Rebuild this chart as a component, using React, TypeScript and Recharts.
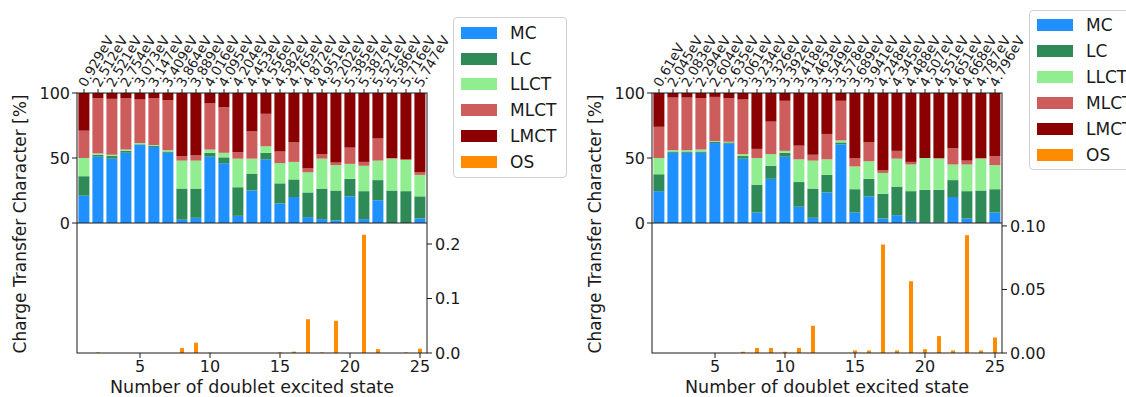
import React from 'react';
import { BarChart, Bar, XAxis, YAxis } from 'recharts';

// excited-state index, shared by both panels
const states = [1, 2, 3, 4, 5, 6, 7, 8, 9, 10, 11, 12, 13, 14, 15, 16, 17, 18, 19, 20, 21, 22, 23, 24, 25];

// left complex
const leftEnergies = [
  '0.929eV', '2.512eV', '2.521eV', '2.754eV', '3.073eV', '3.147eV', '3.409eV', '3.864eV', '3.889eV',
  '4.016eV', '4.095eV', '4.204eV', '4.453eV', '4.556eV', '4.582eV', '4.765eV', '4.872eV', '4.951eV',
  '5.202eV', '5.385eV', '5.387eV', '5.521eV', '5.586eV', '5.716eV', '5.747eV',
];
const leftMC = [21, 51, 49.5, 54, 60, 58.5, 54, 2.5, 4, 51, 46, 5.5, 25, 49, 15, 20, 4.5, 3, 2, 20.5, 3, 17.5, 0, 0, 3.5];
const leftLC = [15, 1.5, 2, 1.5, 0.5, 1, 1, 24, 22.5, 3, 4.5, 22, 13, 5, 15.5, 13.5, 19, 23.5, 23, 13.5, 21.5, 15.5, 25, 24.5, 17];
const leftLLCT = [14, 1, 1, 1, 1, 0.5, 1, 21.5, 21.5, 2.5, 3.5, 22, 11.5, 5, 15.5, 13.5, 15.5, 23, 19.5, 11.5, 19.5, 15, 24.5, 24, 16.5];
const leftMLCT = [21, 42.5, 43, 39.5, 33.5, 36, 38.5, 3.5, 4, 35.5, 35, 5, 21, 25, 9, 15, 3, 3.5, 2, 12.5, 3, 17, 0.5, 0.5, 2];
const leftLMCT = [29, 4, 4.5, 4, 5, 4, 5.5, 48.5, 48, 8, 11, 45.5, 29.5, 16, 45, 38, 58, 47, 53.5, 42, 53, 35, 50, 51, 61];
const leftOS = [0, 0.001, 0, 0, 0, 0, 0, 0.009, 0.019, 0.0005, 0, 0, 0, 0, 0.001, 0.0025, 0.062, 0.001, 0.059, 0, 0.217, 0.007, 0, 0.001, 0.008];

// right complex
const rightEnergies = [
  '0.61eV', '2.045eV', '2.083eV', '2.294eV', '2.604eV', '2.635eV', '3.061eV', '3.234eV', '3.326eV',
  '3.392eV', '3.418eV', '3.463eV', '3.549eV', '3.578eV', '3.689eV', '3.941eV', '4.248eV', '4.345eV',
  '4.488eV', '4.507eV', '4.551eV', '4.651eV', '4.668eV', '4.787eV', '4.796eV',
];
const rightMC = [24.5, 54, 54, 54, 61.5, 61, 49.5, 8, 34, 51, 12.5, 4, 23.5, 60.5, 8, 20.5, 3.5, 6, 1.5, 0.5, 0.5, 20, 3.5, 0, 8];
const rightLC = [13, 1, 1, 1, 1, 1, 2, 21.5, 10, 3, 19, 22.5, 13.5, 1.5, 18, 13.5, 19, 22, 23, 25, 25, 13, 21, 25, 18];
const rightLLCT = [12.5, 1, 1, 1.5, 0.5, 0.5, 1.5, 20.5, 9, 1.5, 17.5, 21.5, 12, 1.5, 17.5, 13.5, 16, 21.5, 20.5, 24.5, 24, 12, 20.5, 24.5, 18.5];
const rightMLCT = [24, 40.5, 40.5, 39.5, 34, 33.5, 42, 7, 25, 38.5, 10.5, 4.5, 19.5, 30.5, 6.5, 14.5, 2, 6, 2, 0, 0.5, 12.5, 3, 0.5, 7];
const rightLMCT = [26, 3.5, 3.5, 4, 3, 4, 5, 43, 22, 6, 40.5, 47.5, 31.5, 6, 50, 38, 59.5, 44.5, 53, 50, 50, 42.5, 52, 50, 48.5];
const rightOS = [0, 0, 0, 0, 0, 0, 0.001, 0.004, 0.004, 0.001, 0.004, 0.0214, 0, 0, 0.002, 0.002, 0.0854, 0.002, 0.0565, 0.003, 0.0133, 0.002, 0.0927, 0.002, 0.0122];

const ctKeys = ['MC', 'LC', 'LLCT', 'MLCT', 'LMCT'];
const colors: Record<string, string> = {
  MC: '#1e90ff',
  LC: '#2e8b57',
  LLCT: '#90ee90',
  MLCT: '#cd5c5c',
  LMCT: '#8b0000',
  OS: '#ff8c00',
};
const legendKeys = [...ctKeys, 'OS'];

const INK = '#1a1a1a';

// plot box of each panel (relative to the panel's left edge)
const PLOT_X = 77;
const PLOT_W = 350;
const TOP_Y = 93;
const MID_Y = 223;
const BOTTOM_Y = 353;

const EnergyTick = ({ x, y, payload, labels }: any) => {
  const tx = x + 2;
  const ty = y + 1;
  return (
    <text x={tx} y={ty} transform={`rotate(-60 ${tx} ${ty})`} fontSize={13.5} fill={INK} textAnchor="start">
      {labels[payload.value - 1]}
    </text>
  );
};

const LegendBox = ({ left, top, rowGap, firstRow }: any) => (
  <div
    style={{
      position: 'absolute',
      left,
      top,
      width: 112,
      height: firstRow * 2 + rowGap * 5,
      border: '1px solid #d0d0d0',
      borderRadius: 4,
      background: '#fff',
      fontSize: 17,
      color: INK,
    }}
  >
    {legendKeys.map((k, i) => (
      <div key={k} style={{ position: 'absolute', left: 0, top: firstRow + i * rowGap, height: 0 }}>
        <div style={{ position: 'absolute', left: 7, top: -6, width: 36, height: 12, background: colors[k] }} />
        <div style={{ position: 'absolute', left: 56, top: -11, lineHeight: '22px', whiteSpace: 'nowrap' }}>{k}</div>
      </div>
    ))}
  </div>
);

interface PanelProps {
  left: number;
  energies: string[];
  mc: number[];
  lc: number[];
  llct: number[];
  mlct: number[];
  lmct: number[];
  os: number[];
  osMax: number;
  osTicks: number[];
  osDigits: number;
}

const Panel = ({ left, energies, mc, lc, llct, mlct, lmct, os, osMax, osTicks, osDigits }: PanelProps) => {
  const ctRows = states.map((s, i) => ({ state: s, MC: mc[i], LC: lc[i], LLCT: llct[i], MLCT: mlct[i], LMCT: lmct[i] }));
  const osRows = states.map((s, i) => ({ state: s, OS: os[i] }));

  return (
    <>
      {/* stacked charge-transfer character */}
      <div style={{ position: 'absolute', left, top: 0 }}>
        <BarChart width={470} height={240} data={ctRows} margin={{ top: 0, right: 43, bottom: 17, left: 0 }} barCategoryGap="10%">
          <XAxis
            dataKey="state"
            orientation="top"
            height={TOP_Y}
            interval={0}
            tickSize={4}
            tickMargin={2}
            axisLine={false}
            stroke={INK}
            tick={(p: any) => <EnergyTick {...p} labels={energies} />}
          />
          <YAxis
            domain={[0, 100]}
            ticks={[0, 50, 100]}
            interval={0}
            width={PLOT_X}
            tickSize={5}
            tickMargin={2}
            axisLine={false}
            stroke={INK}
            tick={{ fontSize: 16, fill: INK }}
          />
          {ctKeys.map((k) => (
            <Bar key={k} dataKey={k} stackId="ct" fill={colors[k]} isAnimationActive={false} />
          ))}
        </BarChart>
      </div>

      {/* oscillator strength */}
      <div style={{ position: 'absolute', left, top: MID_Y - 20 }}>
        <BarChart width={490} height={194} data={osRows} margin={{ top: 20, right: 3, bottom: 0, left: PLOT_X }}>
          <XAxis
            dataKey="state"
            type="number"
            domain={[0.5, 25.5]}
            ticks={[5, 10, 15, 20, 25]}
            interval={0}
            allowDataOverflow
            height={44}
            tickSize={5}
            tickMargin={3}
            axisLine={false}
            stroke={INK}
            tick={{ fontSize: 16, fill: INK }}
            label={{ value: 'Number of doublet excited state', position: 'insideBottom', offset: 4, fill: INK, fontSize: 17.5 }}
          />
          <YAxis
            orientation="right"
            domain={[0, osMax]}
            ticks={osTicks}
            interval={0}
            allowDataOverflow
            width={60}
            tickSize={5}
            tickMargin={3}
            axisLine={false}
            stroke={INK}
            tick={{ fontSize: 16, fill: INK }}
            tickFormatter={(v: number) => v.toFixed(osDigits)}
          />
          <Bar dataKey="OS" fill={colors.OS} barSize={4} isAnimationActive={false} />
        </BarChart>
      </div>

      {/* axes frame shared by the two stacked plots */}
      <svg
        width={PLOT_X + PLOT_W + 2}
        height={BOTTOM_Y + 2}
        style={{ position: 'absolute', left, top: 0, pointerEvents: 'none' }}
      >
        <rect x={PLOT_X} y={TOP_Y} width={PLOT_W} height={BOTTOM_Y - TOP_Y} fill="none" stroke={INK} strokeWidth={1} />
        <line x1={PLOT_X} x2={PLOT_X + PLOT_W} y1={MID_Y} y2={MID_Y} stroke={INK} strokeWidth={1} />
      </svg>

      <div
        style={{
          position: 'absolute',
          left: left + 20,
          top: 224,
          transform: 'translate(-50%, -50%) rotate(-90deg)',
          whiteSpace: 'nowrap',
          fontSize: 17,
          color: INK,
        }}
      >
        Charge Transfer Character [%]
      </div>
    </>
  );
};

export default function App() {
  return (
    <div
      style={{
        position: 'absolute',
        left: 0,
        top: 0,
        width: 1126,
        height: 397,
        overflow: 'hidden',
        background: '#fff',
        fontFamily: '"DejaVu Sans", sans-serif',
      }}
    >
      <Panel
        left={0}
        energies={leftEnergies}
        mc={leftMC}
        lc={leftLC}
        llct={leftLLCT}
        mlct={leftMLCT}
        lmct={leftLMCT}
        os={leftOS}
        osMax={0.2386}
        osTicks={[0, 0.1, 0.2]}
        osDigits={1}
      />
      <Panel
        left={575}
        energies={rightEnergies}
        mc={rightMC}
        lc={rightLC}
        llct={rightLLCT}
        mlct={rightMLCT}
        lmct={rightLMCT}
        os={rightOS}
        osMax={0.1023}
        osTicks={[0, 0.05, 0.1]}
        osDigits={2}
      />
      <LegendBox left={453} top={17} rowGap={25.7} firstRow={15} />
      <LegendBox left={1029} top={10} rowGap={26} firstRow={14} />
    </div>
  );
}
